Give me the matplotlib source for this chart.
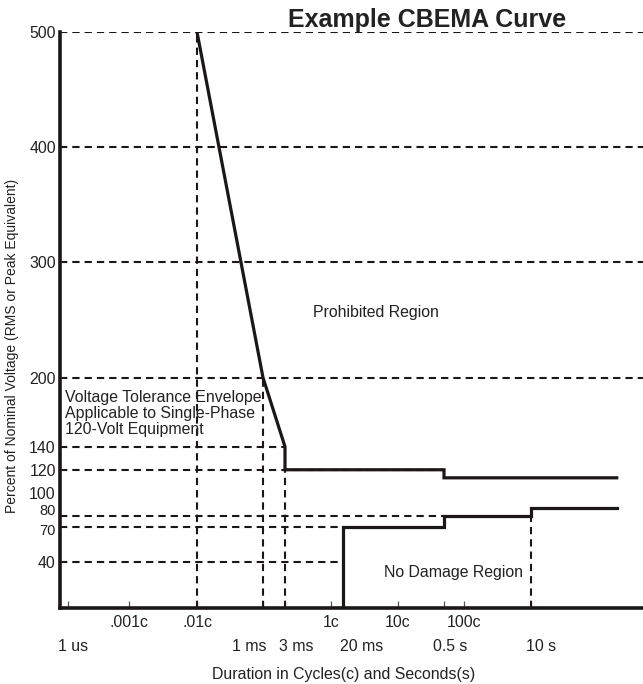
import numpy as np
import matplotlib
matplotlib.use('Agg')
import matplotlib.pyplot as plt
from matplotlib.transforms import ScaledTranslation

plt.rcParams['font.family'] = ['Liberation Sans', 'DejaVu Sans']

W, H = 643, 684
cycle = 1.0 / 60.0   # one cycle at 60 Hz, in seconds

# --- data ---
cycle_ticks = [0.001, 0.01, 1, 10, 100]
cycle_labels = ['.001c', '.01c', '1c', '10c', '100c']
sec_ticks = [1e-6, 1e-3, 3e-3, 20e-3, 0.5, 10]
sec_labels = ['1 us', '1 ms', '3 ms', '20 ms', '0.5 s', '10 s']
y_ticks = [40, 70, 80, 100, 120, 140, 200, 300, 400, 500]

# upper envelope (overvoltage)
upper_t = [0.01 * cycle, 1e-3, 3e-3, 3e-3, 0.5, 0.5, 200]
upper_v = [500, 200, 140, 120, 120, 113, 113]
# lower envelope (undervoltage)
lower_t = [20e-3, 20e-3, 0.5, 0.5, 10, 10, 200]
lower_v = [0, 70, 70, 80, 80, 87, 87]

# dashed reference lines: (level, right end in seconds, None = full width)
h_lines = [(500, None), (400, None), (300, None), (200, None),
           (140, 3e-3), (120, 0.5), (80, 0.5), (70, 20e-3), (40, 20e-3)]
# vertical dashed lines: (time, top level)
v_lines = [(0.01 * cycle, 500), (1e-3, 200), (3e-3, 120), (10, 87)]

# --- hand drawn time axis: log10(seconds) -> pixel column ---
scale_log = [-6.16, -6.0, np.log10(0.001 * cycle), np.log10(0.01 * cycle), -3.0,
             np.log10(3e-3), np.log10(cycle), np.log10(20e-3), np.log10(10 * cycle),
             np.log10(0.5), np.log10(100 * cycle), 1.0, 2.70]
scale_px = [60, 68, 129, 197, 263, 285, 331, 343, 398, 444, 464, 531, 643]


def fwd(t):
    t = np.clip(np.asarray(t, dtype=float), 1e-12, None)
    return np.interp(np.log10(t), scale_log, scale_px)


def inv(p):
    return 10 ** np.interp(np.asarray(p, dtype=float), scale_px, scale_log)


fig = plt.figure(figsize=(W / 100, H / 100), dpi=100)
ax = fig.add_axes([60 / W, (H - 608) / H, (W - 60) / W, 576 / H])
ax.set_xscale('function', functions=(fwd, inv))
xmin, xmax = 10 ** scale_log[0], 10 ** scale_log[-1]
ax.set_xlim(xmin, xmax)
ax.set_ylim(0, 500)

ink = '#1a1716'
dash = (0, (3.5, 2.4))
for lvl, right in h_lines:
    ax.hlines(lvl, xmin, xmax if right is None else right, colors=ink,
              linestyles=dash, lw=1.5, zorder=2)
for t, top in v_lines:
    ax.vlines(t, 0, top, colors=ink, linestyles=dash, lw=1.5, zorder=2)

ax.plot(upper_t, upper_v, color=ink, lw=2.3, solid_joinstyle='miter', zorder=3)
ax.plot(lower_t, lower_v, color=ink, lw=2.3, solid_joinstyle='miter', zorder=3)

for s in ['top', 'right']:
    ax.spines[s].set_visible(False)
for s in ['left', 'bottom']:
    ax.spines[s].set_linewidth(2.6)
    ax.spines[s].set_color(ink)

fs = 11.4
ax.set_yticks(y_ticks)
ax.set_yticklabels([str(v) for v in y_ticks])
ax.tick_params(axis='y', length=0, pad=3, labelsize=fs, labelcolor='#222222')
# 80 and 70 are pushed apart in the drawing so they do not collide
y_dy = {80: 6, 70: -2}
for lbl, v in zip(ax.yaxis.get_majorticklabels(), y_ticks):
    if v in y_dy:
        lbl.set_transform(lbl.get_transform() + ScaledTranslation(0, y_dy[v] / 100, fig.dpi_scale_trans))
        lbl.set_fontsize(10.5)

ax.set_xticks([c * cycle for c in cycle_ticks])
ax.set_xticklabels(cycle_labels)
ax.set_xticks(sec_ticks, minor=True)
ax.set_xticklabels(sec_labels, minor=True)
ax.tick_params(axis='x', which='both', direction='in', length=5, width=0.9,
               color='#555555', labelsize=fs, labelcolor='#222222')
ax.tick_params(axis='x', which='major', pad=5)
ax.tick_params(axis='x', which='minor', pad=22)

# seconds labels in the drawing sit a little off their ticks
sec_dx = [5, -14, 11, 19, 6, 10]
for lbl, dx in zip(ax.xaxis.get_minorticklabels(), sec_dx):
    lbl.set_transform(lbl.get_transform() + ScaledTranslation(dx / 100, 0, fig.dpi_scale_trans))

txt = dict(fontsize=fs, color='#222222')
fig.text(427 / W, 1 - 27 / H, 'Example CBEMA Curve', ha='center', va='baseline',
         fontsize=18, fontweight='bold', color='#222222')
fig.text(376 / W, 1 - 313 / H, 'Prohibited Region', ha='center', va='center', **txt)
fig.text(453 / W, 1 - 573 / H, 'No Damage Region', ha='center', va='center', **txt)
fig.text(65 / W, 1 - 390 / H,
         'Voltage Tolerance Envelope\nApplicable to Single-Phase\n120-Volt Equipment',
         ha='left', va='top', linespacing=1.1, **txt)
fig.text(12 / W, 1 - 346 / H, 'Percent of Nominal Voltage (RMS or Peak Equivalent)',
         rotation=90, ha='center', va='center', fontsize=10, color='#222222')
fig.text(344 / W, 1 - 675 / H, 'Duration in Cycles(c) and Seconds(s)',
         ha='center', va='center', **txt)

fig.savefig('out.png', dpi=100)
